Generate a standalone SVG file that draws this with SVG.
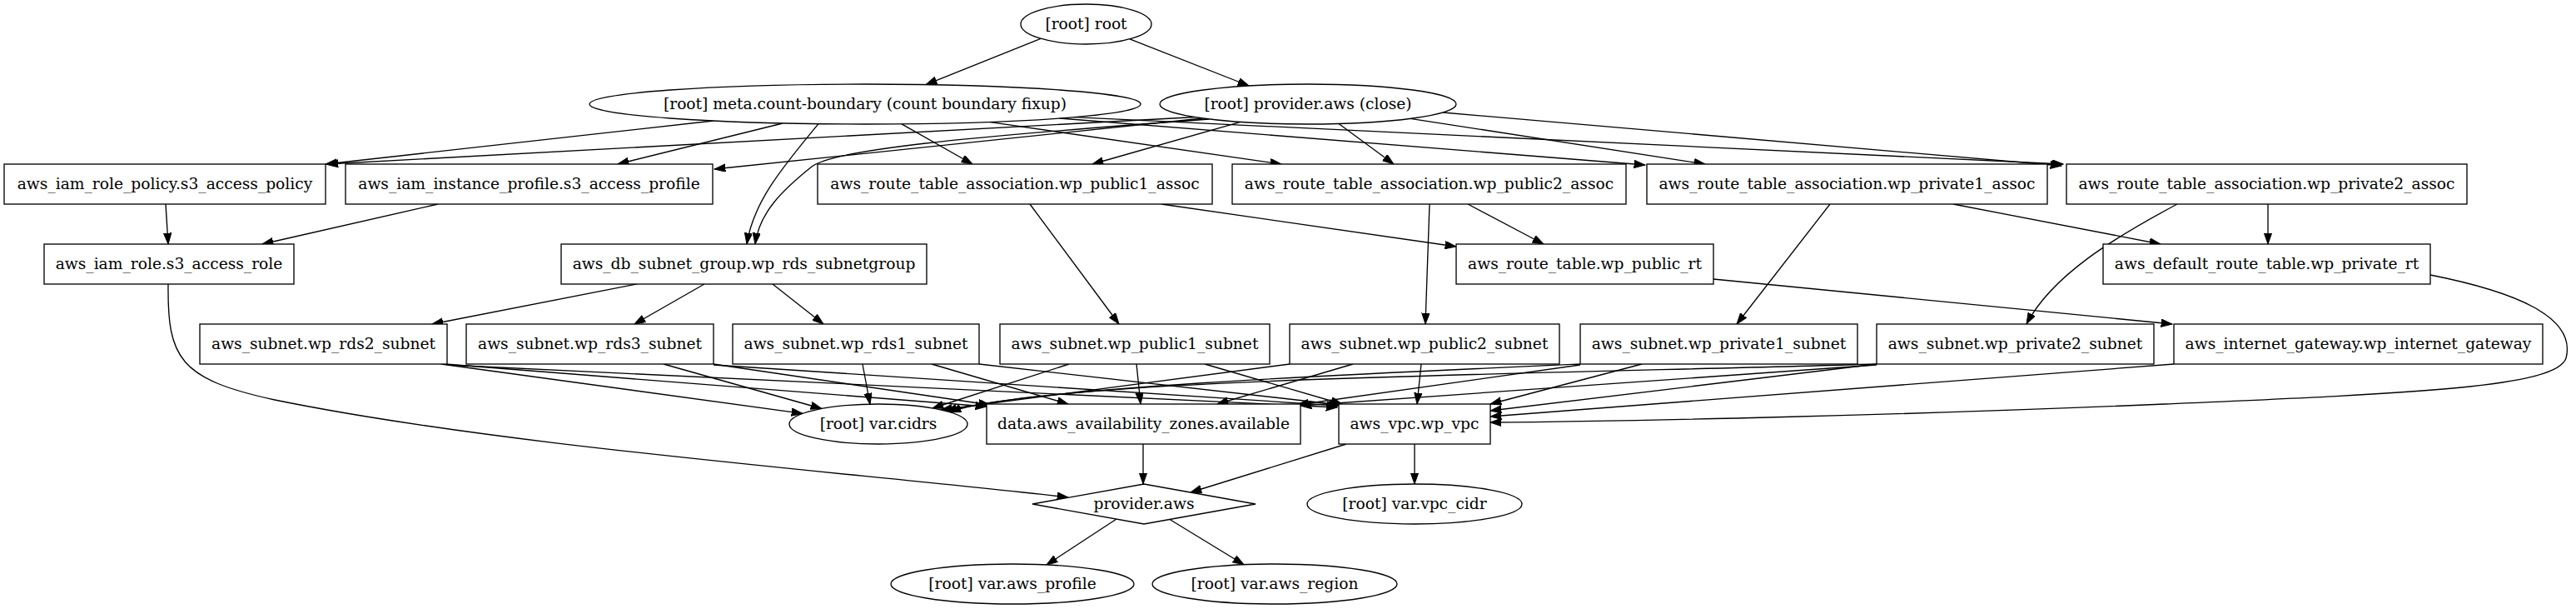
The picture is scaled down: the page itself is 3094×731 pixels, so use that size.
<svg xmlns="http://www.w3.org/2000/svg" width="3094" height="731" viewBox="0 0 3094 731">
<style>
.n rect,.n ellipse,.n polygon{fill:#fff;stroke:#000;stroke-width:1.33}
text{font-family:"DejaVu Serif","Liberation Serif",serif;font-size:18.67px;text-anchor:middle;fill:#000}
.e path{fill:none;stroke:#000;stroke-width:1.33;marker-end:url(#ah)}
</style>
<defs>
<marker id="ah" markerUnits="userSpaceOnUse" markerWidth="14" markerHeight="10" refX="13.33" refY="4.67" orient="auto">
<path d="M0,0 L13.33,4.67 L0,9.33 Z" fill="#000" stroke="#000" stroke-width="1"/>
</marker>
</defs>
<rect width="3094" height="731" fill="#fff"/>
<g id="edges" class="e">
<path d="M1250,46.3 L1112,101.6"/>
<path d="M1357,46.8 L1500,103"/>
<path d="M857,145 L391,197"/>
<path d="M940,148 L742,197"/>
<path d="M983,148.6 C945,195 905,240 897,293"/>
<path d="M1083,148.8 L1168,197"/>
<path d="M1188,146.4 L1539,197"/>
<path d="M1273,142 L1976,198"/>
<path d="M1290,140.6 L2478,197"/>
<path d="M1436,140.5 L393,197"/>
<path d="M1444,142 L858,203"/>
<path d="M1452,143 C1150,165 1000,180 975,200 C940,228 912,255 907,293"/>
<path d="M1490,146.4 L1312,197"/>
<path d="M1608,148.5 L1674,197"/>
<path d="M1694,142.3 L2048,197"/>
<path d="M1733,135 L2476,199"/>
<path d="M199,245 L202,293"/>
<path d="M526,245 L315,293"/>
<path d="M1395,245 L1749,296"/>
<path d="M1237,245 L1344,389"/>
<path d="M1763,245 L1854,293"/>
<path d="M1717,245 L1712,389"/>
<path d="M2346,245 L2595,293"/>
<path d="M2198,245 L2086,389"/>
<path d="M2724,245 L2724,293"/>
<path d="M2615,245 C2540,285 2465,330 2434,389"/>
<path d="M2058,335 L2609,389"/>
<path d="M765,341 L519,389"/>
<path d="M846,341 L762,389"/>
<path d="M928,341 L989,389"/>
<path d="M202,341 C201,430 215,455 330,480 C600,535 1000,565 1283,597"/>
<path d="M2919,330 C3020,350 3095,380 3082,430 C3070,465 2900,472 2600,485 C2300,498 1950,506 1790,507"/>
<path d="M530,437 L964,496.4"/>
<path d="M535,437 L1185,488"/>
<path d="M537,438 L1606,489"/>
<path d="M797,437 L987,490.5"/>
<path d="M857,437 L1189,486"/>
<path d="M857,438 L1607,487"/>
<path d="M1036,437 L1045,485.2"/>
<path d="M1119,437 L1283,485"/>
<path d="M1176,437 L1610,486"/>
<path d="M1284,437 L1120,490"/>
<path d="M1365,437 L1370,485"/>
<path d="M1447,437 L1612,485"/>
<path d="M1549,437 L1130,492"/>
<path d="M1625,437 L1462,485"/>
<path d="M1707,437 L1702,485"/>
<path d="M1898,437 C1600,450 1250,465 1136,493.3"/>
<path d="M1898,438 L1558,486"/>
<path d="M1972,437 L1790,485"/>
<path d="M2254,437 C1800,450 1250,455 1141,494.7"/>
<path d="M2254,438 L1562,487"/>
<path d="M2254,437 L1790,493"/>
<path d="M2611,437 L1790,500"/>
<path d="M1373,533 L1373,581"/>
<path d="M1617,533 L1430,591"/>
<path d="M1699,533 L1699,581"/>
<path d="M1341,623 L1257,678"/>
<path d="M1405,623.5 L1494,677.8"/>
</g>
<g id="root" class="n"><ellipse cx="1304.5" cy="29" rx="78.5" ry="24"/><text x="1304.5" y="35">[root] root</text></g>
<g id="meta" class="n"><ellipse cx="1039" cy="125" rx="331" ry="24"/><text x="1039" y="131">[root] meta.count-boundary (count boundary fixup)</text></g>
<g id="provider_close" class="n"><ellipse cx="1571" cy="125" rx="178" ry="24"/><text x="1571" y="131">[root] provider.aws (close)</text></g>
<g id="iam_role_policy" class="n"><rect x="5" y="197" width="386" height="48"/><text x="198" y="227">aws_iam_role_policy.s3_access_policy</text></g>
<g id="iam_instance_profile" class="n"><rect x="415" y="197" width="441" height="48"/><text x="635.5" y="227">aws_iam_instance_profile.s3_access_profile</text></g>
<g id="public1_assoc" class="n"><rect x="982" y="197" width="474" height="48"/><text x="1219" y="227">aws_route_table_association.wp_public1_assoc</text></g>
<g id="public2_assoc" class="n"><rect x="1480" y="197" width="473" height="48"/><text x="1716.5" y="227">aws_route_table_association.wp_public2_assoc</text></g>
<g id="private1_assoc" class="n"><rect x="1978" y="197" width="481" height="48"/><text x="2218.5" y="227">aws_route_table_association.wp_private1_assoc</text></g>
<g id="private2_assoc" class="n"><rect x="2482" y="197" width="481" height="48"/><text x="2722.5" y="227">aws_route_table_association.wp_private2_assoc</text></g>
<g id="iam_role" class="n"><rect x="53" y="293" width="300" height="48"/><text x="203" y="323">aws_iam_role.s3_access_role</text></g>
<g id="db_subnet_group" class="n"><rect x="674" y="293" width="439" height="48"/><text x="893.5" y="323">aws_db_subnet_group.wp_rds_subnetgroup</text></g>
<g id="public_rt" class="n"><rect x="1749" y="293" width="309" height="48"/><text x="1903.5" y="323">aws_route_table.wp_public_rt</text></g>
<g id="private_rt" class="n"><rect x="2526" y="293" width="393" height="48"/><text x="2722.5" y="323">aws_default_route_table.wp_private_rt</text></g>
<g id="rds2_subnet" class="n"><rect x="240" y="389" width="297" height="48"/><text x="388.5" y="419">aws_subnet.wp_rds2_subnet</text></g>
<g id="rds3_subnet" class="n"><rect x="560" y="389" width="297" height="48"/><text x="708.5" y="419">aws_subnet.wp_rds3_subnet</text></g>
<g id="rds1_subnet" class="n"><rect x="880" y="389" width="296" height="48"/><text x="1028" y="419">aws_subnet.wp_rds1_subnet</text></g>
<g id="public1_subnet" class="n"><rect x="1201" y="389" width="324" height="48"/><text x="1363" y="419">aws_subnet.wp_public1_subnet</text></g>
<g id="public2_subnet" class="n"><rect x="1549" y="389" width="324" height="48"/><text x="1711" y="419">aws_subnet.wp_public2_subnet</text></g>
<g id="private1_subnet" class="n"><rect x="1898" y="389" width="333" height="48"/><text x="2064.5" y="419">aws_subnet.wp_private1_subnet</text></g>
<g id="private2_subnet" class="n"><rect x="2254" y="389" width="333" height="48"/><text x="2420.5" y="419">aws_subnet.wp_private2_subnet</text></g>
<g id="internet_gateway" class="n"><rect x="2611" y="389" width="443" height="48"/><text x="2832.5" y="419">aws_internet_gateway.wp_internet_gateway</text></g>
<g id="var_cidrs" class="n"><ellipse cx="1055" cy="509" rx="107" ry="24"/><text x="1055" y="515">[root] var.cidrs</text></g>
<g id="az" class="n"><rect x="1185" y="485" width="377" height="48"/><text x="1373.5" y="515">data.aws_availability_zones.available</text></g>
<g id="vpc" class="n"><rect x="1608" y="485" width="182" height="48"/><text x="1699" y="515">aws_vpc.wp_vpc</text></g>
<g id="provider_aws" class="n"><polygon points="1240,605 1374,581 1508,605 1374,629"/><text x="1374" y="611">provider.aws</text></g>
<g id="var_vpc_cidr" class="n"><ellipse cx="1699" cy="605" rx="129" ry="24"/><text x="1699" y="611">[root] var.vpc_cidr</text></g>
<g id="var_aws_profile" class="n"><ellipse cx="1216" cy="701" rx="146" ry="24"/><text x="1216" y="707">[root] var.aws_profile</text></g>
<g id="var_aws_region" class="n"><ellipse cx="1531" cy="701" rx="147" ry="24"/><text x="1531" y="707">[root] var.aws_region</text></g>
</svg>
